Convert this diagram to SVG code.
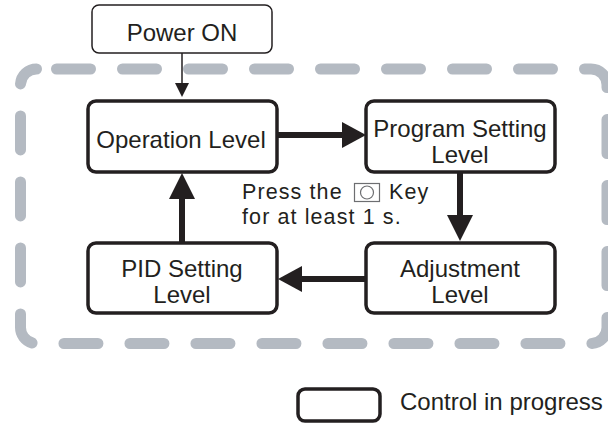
<svg xmlns="http://www.w3.org/2000/svg" width="608" height="423" viewBox="0 0 608 423">
<style>
text{font-family:"Liberation Sans",Arial,sans-serif;font-size:24px;fill:#231f20}
.lbl{text-anchor:middle}
.note{font-size:21.5px;letter-spacing:1.1px}
.box{fill:#fff;stroke:#231f20;stroke-width:3.5}
.thin{fill:#fff;stroke:#231f20;stroke-width:1.5}
.thick{stroke:#231f20;stroke-width:6;fill:none}
.ah{fill:#231f20}
</style>
<rect x="20.5" y="69" width="586.5" height="274.5" rx="16" fill="none" stroke="#b4bac2" stroke-width="11" stroke-linecap="round" stroke-dasharray="34 32" stroke-dashoffset="-20"/>
<g id="power-on">
<rect class="thin" x="92" y="5" width="180" height="48" rx="7"/>
<text class="lbl" x="182" y="41">Power ON</text>
</g>
<g id="operation-level">
<rect class="box" x="88" y="101" width="189" height="71" rx="8"/>
<text class="lbl" x="181" y="148">Operation Level</text>
</g>
<g id="program-setting-level">
<rect class="box" x="366" y="101" width="189" height="71" rx="8"/>
<text class="lbl" x="460" y="137">Program Setting<tspan x="460" y="163">Level</tspan></text>
</g>
<g id="adjustment-level">
<rect class="box" x="366" y="243" width="189" height="70" rx="8"/>
<text class="lbl" x="460" y="277">Adjustment<tspan x="460" y="303">Level</tspan></text>
</g>
<g id="pid-setting-level">
<rect class="box" x="88" y="243" width="189" height="70" rx="8"/>
<text class="lbl" x="182" y="277">PID Setting<tspan x="182" y="303">Level</tspan></text>
</g>
<g id="connectors">
<line x1="182" y1="53" x2="182" y2="84" stroke="#231f20" stroke-width="1.5"/>
<polygon class="ah" points="175,83 189,83 182,97"/>
<line class="thick" x1="277" y1="135" x2="345" y2="135"/>
<polygon class="ah" points="342,122 366,135 342,148"/>
<line class="thick" x1="460" y1="172" x2="460" y2="218"/>
<polygon class="ah" points="447,215 473,215 460,241"/>
<line class="thick" x1="366" y1="279" x2="298" y2="279"/>
<polygon class="ah" points="302,266 278,279 302,292"/>
<line class="thick" x1="182" y1="243" x2="182" y2="196"/>
<polygon class="ah" points="169,199 195,199 182,173"/>
</g>
<g id="note">
<rect x="354.5" y="183.5" width="25" height="18" fill="#fff" stroke="#6d6e71" stroke-width="1.2"/>
<circle cx="367" cy="192.5" r="6.5" fill="none" stroke="#6d6e71" stroke-width="1.2"/>
<text class="note" x="242" y="199">Press the<tspan x="389">Key</tspan><tspan x="242" y="223.5">for at least 1 s.</tspan></text>
</g>
<g id="legend">
<rect class="box" x="298" y="389" width="82" height="32" rx="7"/>
<text x="400" y="410">Control in progress</text>
</g>
</svg>
